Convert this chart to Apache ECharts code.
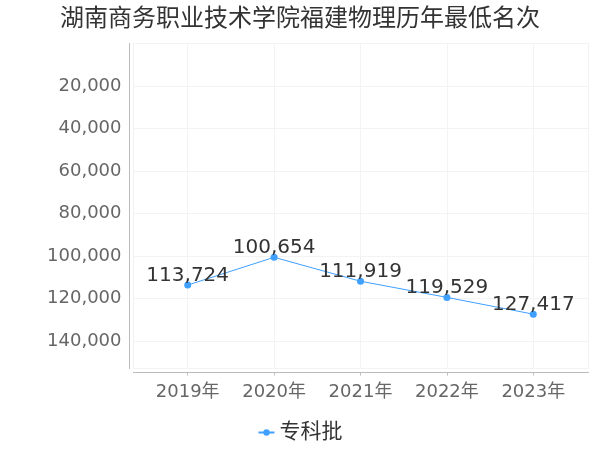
<!DOCTYPE html>
<html>
<head>
<meta charset="utf-8">
<script src="https://cdn.jsdelivr.net/npm/echarts@6/dist/echarts.min.js"></script>
<style>
html,body{margin:0;padding:0;background:#fff;}
#main{width:600px;height:450px;}
</style>
</head>
<body>
<div id="main"></div>
<script>
const titleText = '湖南商务职业技术学院福建物理历年最低名次';
const seriesName = '专科批';
const years = ['2019年', '2020年', '2021年', '2022年', '2023年'];
const values = [113724, 100654, 111919, 119529, 127417];
const yMin = 0;
const yMax = 153000;
const yStep = 20000;

const FONT = '"DejaVu Sans", "Noto Sans CJK SC", sans-serif';
const fmt = v => Number(v).toLocaleString('en-US');

const chart = echarts.init(document.getElementById('main'), null, {renderer: 'canvas'});
chart.setOption({
  animation: false,
  backgroundColor: '#fff',
  textStyle: {fontFamily: FONT},
  title: {
    text: titleText,
    left: 'center',
    top: 3,
    textStyle: {fontSize: 24, fontWeight: 'normal', color: '#333', fontFamily: FONT}
  },
  legend: {
    bottom: 2,
    left: 'center',
    itemWidth: 16,
    itemHeight: 8,
    textStyle: {fontSize: 21, color: '#333', fontFamily: FONT},
    data: [seriesName]
  },
  grid: [
    {left: 133.5, right: 11.5, top: 43.5, bottom: 81.5, show: true, borderColor: '#f2f2f2', borderWidth: 1, backgroundColor: 'transparent'},
    {left: 187.7, right: 66.7, top: 43.5, bottom: 81.5}
  ],
  xAxis: [
    {
      gridIndex: 0, type: 'value', min: 0, max: 1, offset: 4, position: 'bottom',
      axisLine: {show: true, onZero: false, lineStyle: {color: '#bbb'}},
      axisTick: {show: false}, axisLabel: {show: false}, splitLine: {show: false}
    },
    {
      gridIndex: 1, type: 'category', data: years, boundaryGap: false, offset: 4, position: 'bottom',
      axisLine: {show: false, onZero: false},
      axisTick: {show: true, length: 3, alignWithLabel: true, lineStyle: {color: '#bbb'}},
      axisLabel: {fontSize: 18, color: '#666', margin: 11, fontFamily: FONT},
      splitLine: {show: true, lineStyle: {color: '#f3f3f3'}}
    }
  ],
  yAxis: [
    {
      gridIndex: 0, type: 'value', inverse: true, min: yMin, max: yMax, interval: yStep, offset: 4, position: 'left',
      axisLine: {show: true, onZero: false, lineStyle: {color: '#bbb'}},
      axisTick: {show: false},
      axisLabel: {fontSize: 18, color: '#666', margin: 8, showMinLabel: false, showMaxLabel: false,
        padding: [4, 0, 0, 0],
        formatter: v => (v % yStep === 0 && v !== 0) ? fmt(v) : '', fontFamily: FONT},
      splitLine: {show: true, lineStyle: {color: '#f3f3f3'}}
    },
    {
      gridIndex: 1, type: 'value', inverse: true, min: yMin, max: yMax, interval: yStep, show: false,
      axisLine: {onZero: false},
      splitLine: {show: false}
    }
  ],
  series: [{
    name: seriesName,
    type: 'line',
    xAxisIndex: 1,
    yAxisIndex: 1,
    data: values,
    color: '#3fa0ff',
    lineStyle: {width: 1, color: '#3fa0ff'},
    symbol: 'circle',
    symbolSize: 7,
    itemStyle: {color: '#3fa0ff'},
    label: {
      show: true, position: 'top', distance: -4,
      fontSize: 20, color: '#333', fontFamily: FONT,
      formatter: p => fmt(p.value)
    }
  }]
});
</script>
</body>
</html>
